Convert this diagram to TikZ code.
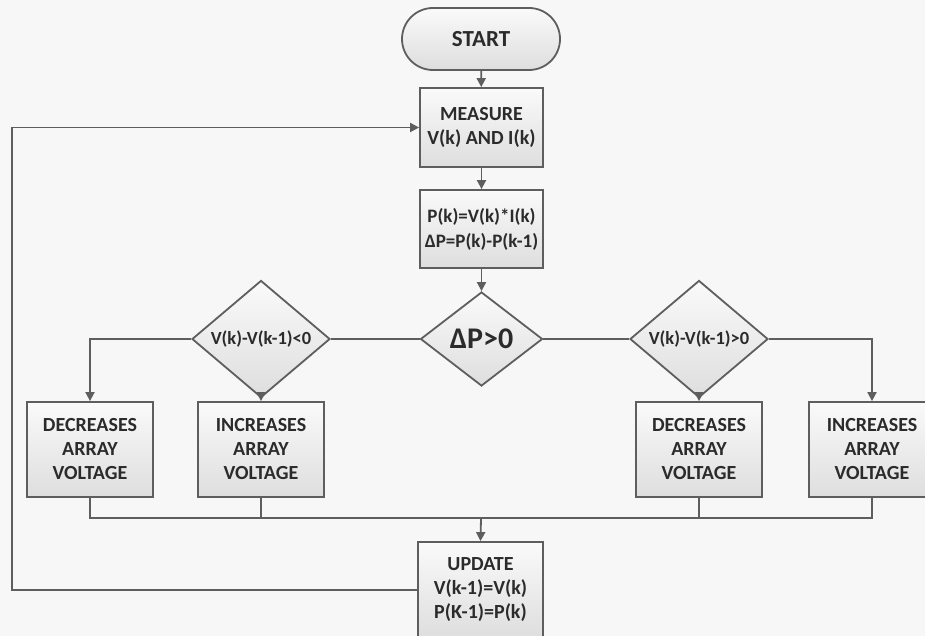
\documentclass[tikz,border=0pt]{standalone}
\usepackage{fontspec}
\setmainfont{Carlito}
\usetikzlibrary{shapes.geometric,arrows.meta}
\definecolor{ln}{HTML}{5E5E5E}
\definecolor{tx}{HTML}{2B2B2B}
\definecolor{bg}{HTML}{F7F7F7}
\begin{document}
\begin{tikzpicture}[x=1pt,y=-1pt,
  shade/.style={top color=gray!4, bottom color=gray!26},
  box/.style={draw=ln, line width=1.8pt, shade, text=tx, align=center,
    font=\bfseries\fontsize{20}{24}\selectfont, inner sep=0pt,
    minimum width=126pt, minimum height=95pt},
  term/.style={box, rounded corners=31pt, minimum width=158pt, minimum height=62pt,
    font=\bfseries\fontsize{23}{27}\selectfont},
  dia/.style={diamond, draw=ln, line width=1.8pt, shade, text=tx, align=center,
    font=\bfseries\fontsize{18.5}{22}\selectfont, inner sep=0pt,
    minimum width=138pt, minimum height=93pt},
  con/.style={draw=ln, line width=1.8pt},
  arr/.style={con, -{Triangle[length=9pt,width=9pt]}}]
\clip (0,0) rectangle (925,636);
\fill[bg] (0,0) rectangle (925,636);
% nodes
\node[term] (start) at (481,39) {START};
\node[box, minimum width=123pt, minimum height=79pt] (meas) at (481.5,127.5) {MEASURE\\V(k) AND I(k)};
\node[box, minimum width=123pt, minimum height=78pt, font=\bfseries\fontsize{19}{25}\selectfont] (pk) at (481.5,229) {P(k)=V(k)*I(k)\\ΔP=P(k)-P(k-1)};
\node[dia, minimum width=122pt, minimum height=94pt, font=\bfseries\fontsize{30}{34}\selectfont] (dp) at (481.5,339) {ΔP>0};
\node[dia] (dl) at (261,339) {V(k)-V(k-1)<0};
\node[dia] (dr) at (699,339) {V(k)-V(k-1)>0};
\node[box] (b1) at (90,449.5) {DECREASES\\ARRAY\\VOLTAGE};
\node[box] (b2) at (261,449.5) {INCREASES\\ARRAY\\VOLTAGE};
\node[box] (b3) at (699,449.5) {DECREASES\\ARRAY\\VOLTAGE};
\node[box] (b4) at (872,449.5) {INCREASES\\ARRAY\\VOLTAGE};
\node[box, minimum width=125pt, minimum height=96pt] (upd) at (480.5,590) {UPDATE\\V(k-1)=V(k)\\P(K-1)=P(k)};
\coordinate (bus) at (481,518);
\coordinate (loopb) at (12,590);
\coordinate (loopt) at (12,127.5);
% connectors
\draw[arr] (start) -- (meas);
\draw[arr] (meas) -- (pk);
\draw[arr] (pk) -- (dp);
\draw[con] (dl.east) -- (dp.west);
\draw[con] (dp.east) -- (dr.west);
\draw[arr] (dl.west) -| (b1.north);
\draw[arr] (dl.south) -- (b2.north);
\draw[arr] (dr.south) -- (b3.north);
\draw[arr] (dr.east) -| (b4.north);
\draw[con] (b1.south) |- (bus);
\draw[con] (b2.south) |- (bus);
\draw[con] (b3.south) |- (bus);
\draw[con] (b4.south) |- (bus);
\draw[arr] (bus) -- (upd.north);
\draw[arr] (upd.west) -- (loopb) -- (loopt) -- (meas.west);
\end{tikzpicture}
\end{document}
